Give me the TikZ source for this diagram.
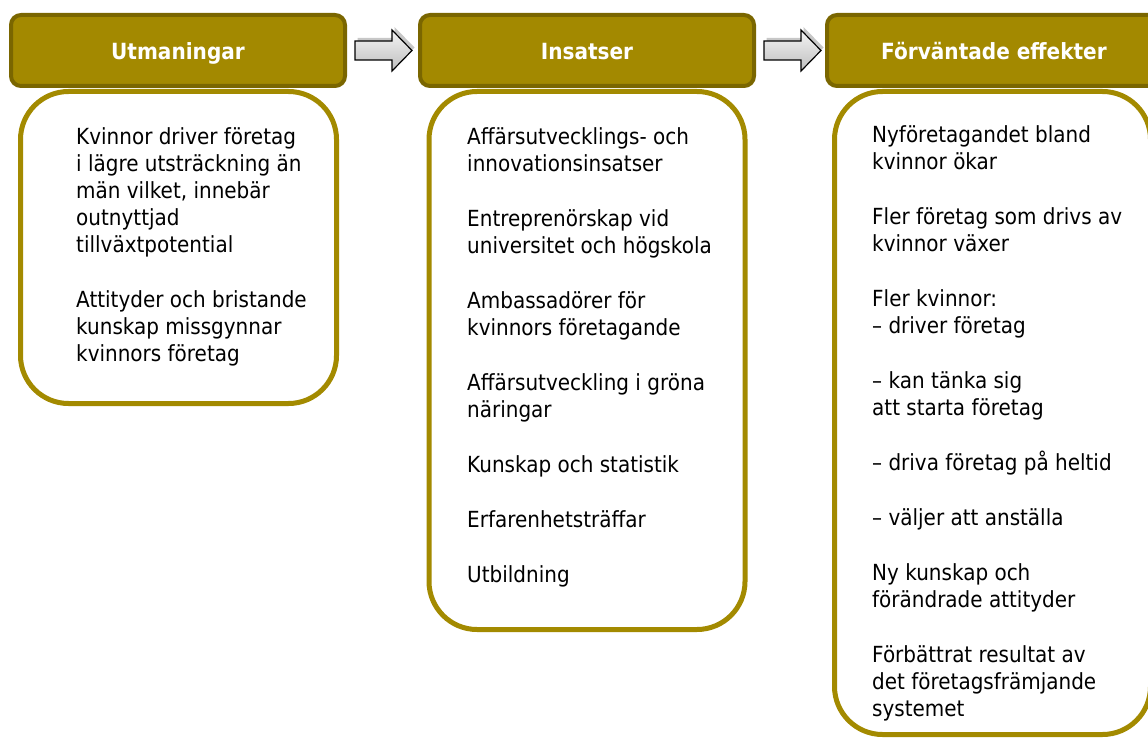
\documentclass[tikz,border=0pt]{standalone}
\usepackage{fontspec}
\setmainfont{DejaVu Sans}[FakeStretch=0.9]
\usetikzlibrary{calc}
\definecolor{hdrfill}{HTML}{A38900}
\definecolor{hdrborder}{HTML}{7A6600}
\definecolor{boxborder}{HTML}{A38A00}
\definecolor{arrtop}{HTML}{F4F4F4}
\definecolor{arrbot}{HTML}{BEBEBE}
\tikzset{
  header/.style={draw=hdrborder, line width=4pt, fill=hdrfill, rounded corners=10pt,
    minimum width=334pt, minimum height=71pt, inner sep=0pt, text=white,
    text height=19pt, text depth=0pt,
    font=\bfseries\fontsize{22.3}{26}\selectfont},
  bodybox/.style={draw=boxborder, line width=5pt, fill=white, rounded corners=48pt,
    minimum width=316pt, inner sep=0pt},
  bodytext/.style={anchor=north west, align=left, inner sep=0pt, text=black,
    font=\fontsize{22.2}{27}\selectfont},
  blockarrow/.style={draw=black, line width=1.2pt, line join=miter,
    top color=arrtop, bottom color=arrbot},
  arrowshadow/.style={fill=black, opacity=0.22}
}
\begin{document}
\begin{tikzpicture}[x=1pt,y=-1pt]
\useasboundingbox (0,0) rectangle (1148,738);
\clip (0,0) rectangle (1148,738);

% body boxes
\node[bodybox, minimum height=312pt] (b1) at (178.5,247.5) {};
\node[bodybox, minimum height=538pt] (b2) at (587,360.5) {};
\node[bodybox, minimum height=643pt] (b3) at (992.5,413) {};

% headers
\node[header] (h1) at (178,50.5) {Utmaningar};
\node[header] (h2) at (587,50.5) {Insatser};
\node[header] (h3) at (994,50.5) {Förväntade effekter};

% block arrows
\coordinate (a1) at ($(h1.east)+(8pt,0)$);
\coordinate (a2) at ($(h2.east)+(8pt,0)$);
\foreach \a in {a1,a2}{
  \fill[arrowshadow, shift={($(\a)+(2.5pt,3pt)$)}]
    (0,-9.5) -- (37,-9.5) -- (37,-20.5) -- (57,0) -- (37,20.5) -- (37,9.5) -- (0,9.5) -- cycle;
  \draw[blockarrow, shift={(\a)}]
    (0,-9.5) -- (37,-9.5) -- (37,-20.5) -- (57,0) -- (37,20.5) -- (37,9.5) -- (0,9.5) -- cycle;
}

% texts
\node[bodytext] (t1) at (76,127) {Kvinnor driver företag\\ i lägre utsträckning än\\ män vilket, innebär\\ outnyttjad\\ tillväxtpotential\\[28pt]
Attityder och bristande\\ kunskap missgynnar\\ kvinnors företag};

\node[bodytext] (t2) at (467,127) {Affärsutvecklings- och\\ innovationsinsatser\\[28pt]
Entreprenörskap vid\\ universitet och högskola\\[28pt]
Ambassadörer för\\ kvinnors företagande\\[28pt]
Affärsutveckling i gröna\\ näringar\\[28pt]
Kunskap och statistik\\[28pt]
Erfarenhetsträffar\\[28pt]
Utbildning};

\node[bodytext] (t3) at (872,125) {Nyföretagandet bland\\ kvinnor ökar\\[28pt]
Fler företag som drivs av\\ kvinnor växer\\[28pt]
Fler kvinnor:\\ – driver företag\\[28pt]
– kan tänka sig\\ att starta företag\\[28pt]
– driva företag på heltid\\[28pt]
– väljer att anställa\\[28pt]
Ny kunskap och\\ förändrade attityder\\[28pt]
Förbättrat resultat av\\ det företagsfrämjande\\ systemet};
\end{tikzpicture}
\end{document}
